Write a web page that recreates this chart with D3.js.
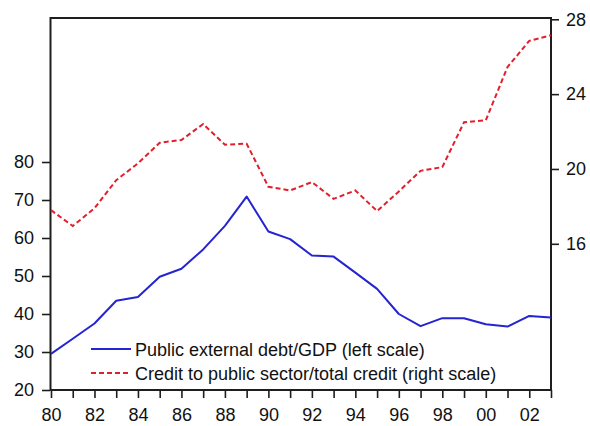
<!DOCTYPE html>
<html>
<head>
<meta charset="utf-8">
<script src="https://cdn.jsdelivr.net/npm/d3@7"></script>
<style>
  html, body { margin: 0; padding: 0; background: #fff; }
  svg { display: block; }
  text { font-family: "Liberation Sans", Arial, Helvetica, sans-serif; fill: #111; }
</style>
</head>
<body>
<svg id="chart" width="590" height="426"></svg>
<script>
// ---- data ----
const years = [1980,1981,1982,1983,1984,1985,1986,1987,1988,1989,1990,1991,
               1992,1993,1994,1995,1996,1997,1998,1999,2000,2001,2002,2003];
const publicExternalDebt = [29.5,33.5,37.5,43.5,44.5,49.8,51.9,57.0,63.2,70.9,61.7,59.7,
                            55.4,55.1,50.9,46.6,40.0,36.8,38.9,38.9,37.3,36.7,39.5,39.1];
const creditPublicSector = [17.8,16.95,17.9,19.4,20.3,21.4,21.55,22.4,21.3,21.35,19.05,18.85,
                            19.3,18.4,18.85,17.75,18.8,19.9,20.1,22.5,22.6,25.45,26.85,27.15];
const leftTicks = [20,30,40,50,60,70,80];
const rightTicks = [16,20,24,28];
const legendLabels = ["Public external debt/GDP (left scale)",
                      "Credit to public sector/total credit (right scale)"];

// ---- layout ----
const svg = d3.select("#chart");
const L = 51, R = 551, T = 18, B = 390;
const x = d3.scaleLinear().domain([1980, 2003]).range([L, R]);
const yL = d3.scaleLinear().domain([20, 80]).range([B, 162]);
const yR = d3.scaleLinear().domain([16, 28]).range([243.8, 19.3]);

const fontSize = 18;
const axisColor = "#1e1e1e";

// frame
svg.append("rect")
  .attr("x", L - 0.5).attr("y", T).attr("width", R - L + 0.5).attr("height", B - T)
  .attr("fill", "none").attr("stroke", axisColor).attr("stroke-width", 2);

function styleAxis(g) {
  g.select(".domain").remove();
  g.selectAll(".tick line").attr("stroke", axisColor).attr("stroke-width", 1.6);
  g.selectAll(".tick text").attr("font-size", fontSize)
    .attr("font-family", "'Liberation Sans', Arial, Helvetica, sans-serif")
    .attr("fill", "#111");
}

// left axis
svg.append("g").attr("transform", `translate(${L - 1},0)`)
  .call(d3.axisLeft(yL).tickValues(leftTicks).tickSize(8).tickPadding(8).tickFormat(d3.format("d")))
  .call(styleAxis);

// right axis
svg.append("g").attr("transform", `translate(${R},0)`)
  .call(d3.axisRight(yR).tickValues(rightTicks).tickSize(8).tickPadding(7).tickFormat(d3.format("d")))
  .call(styleAxis);

// bottom axis
svg.append("g").attr("transform", `translate(0,${B})`)
  .call(d3.axisBottom(x).tickValues(years).tickSize(8).tickPadding(10)
        .tickFormat(d => d % 2 === 0 ? String(d % 100).padStart(2, "0") : ""))
  .call(styleAxis);

// lines
const blueLine = d3.line().x((d, i) => x(years[i])).y(d => yL(d));
const redLine = d3.line().x((d, i) => x(years[i])).y(d => yR(d));

svg.append("path").datum(publicExternalDebt)
  .attr("d", blueLine).attr("fill", "none")
  .attr("stroke", "#2424d0").attr("stroke-width", 2).attr("stroke-linejoin", "round");

svg.append("path").datum(creditPublicSector)
  .attr("d", redLine).attr("fill", "none")
  .attr("stroke", "#e0202c").attr("stroke-width", 2).attr("stroke-dasharray", "5,3");

// legend
const legendX0 = 91, legendX1 = 131, legendTextX = 135;
const legendYs = [349, 373];
const legendStyles = [{stroke: "#2424d0", dash: null}, {stroke: "#e0202c", dash: "5,3"}];
legendLabels.forEach((lab, i) => {
  svg.append("line")
    .attr("x1", legendX0).attr("x2", legendX1)
    .attr("y1", legendYs[i]).attr("y2", legendYs[i])
    .attr("stroke", legendStyles[i].stroke).attr("stroke-width", 2)
    .attr("stroke-dasharray", legendStyles[i].dash);
  svg.append("text")
    .attr("x", legendTextX).attr("y", legendYs[i] + 6.5)
    .attr("font-size", fontSize).text(lab);
});
</script>
</body>
</html>
